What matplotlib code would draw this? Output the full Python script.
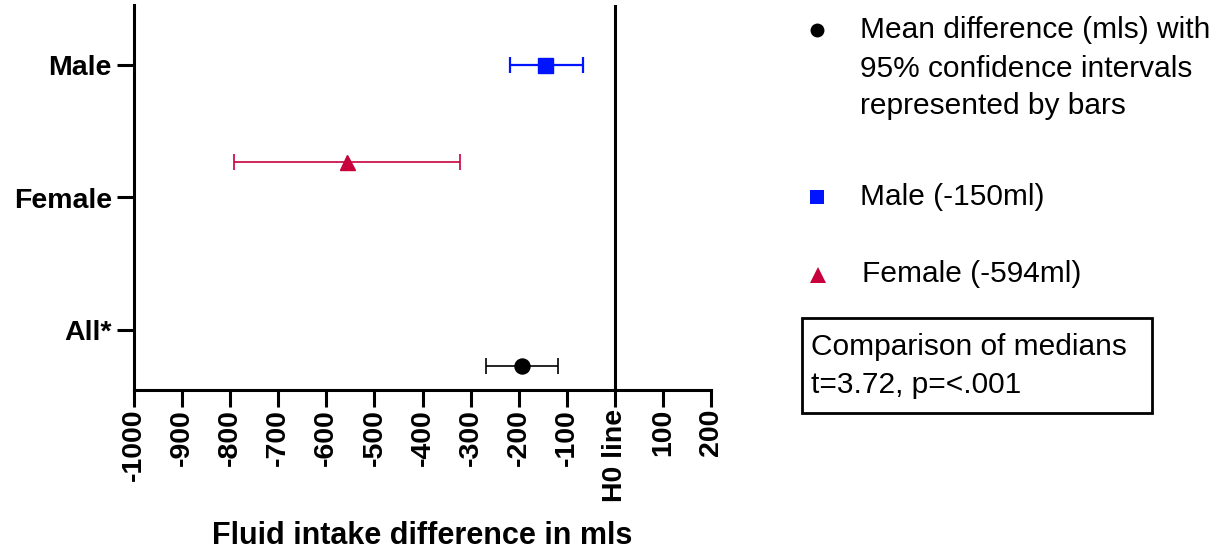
import numpy as np
import matplotlib
matplotlib.use("Agg")
import matplotlib.pyplot as plt
from matplotlib.lines import Line2D
from matplotlib.patches import Rectangle

plt.rcParams['font.family'] = ['Liberation Sans', 'DejaVu Sans']

# data
groups = ['Male', 'Female', 'All*']
group_y = [3, 2, 1]
point_y = [3.0, 2.265, 0.727]
means = [-145, -557, -193]
ci_low = [-217, -792, -267]
ci_high = [-67, -321, -119]

xticks = [-1000, -900, -800, -700, -600, -500, -400, -300, -200, -100, 0, 100, 200]
xticklabels = ['-1000', '-900', '-800', '-700', '-600', '-500', '-400', '-300',
               '-200', '-100', 'H0 line', '100', '200']

legend_labels = ['Mean difference (mls) with', '95% confidence intervals',
                 'represented by bars']
male_label = 'Male (-150ml)'
female_label = 'Female (-594ml)'
stats_lines = ['Comparison of medians', 't=3.72, p=<.001']

colors = ['#0014ff', '#c8003c', 'black']
markers = ['s', '^', 'o']
elw = [1.6, 1.2, 1.2]

W, H = 1229, 556
fig = plt.figure(figsize=(W / 100, H / 100), dpi=100)


def fx(px):
    return px / W


def fy(py):
    return 1 - py / H


ax = fig.add_axes([fx(134), fy(390), (711 - 134) / W, (390 - 5) / H])

for i in range(len(groups)):
    ax.errorbar([means[i]], [point_y[i]],
                xerr=[[means[i] - ci_low[i]], [ci_high[i] - means[i]]],
                fmt=markers[i], color=colors[i], ms=10.8,
                elinewidth=elw[i], capsize=5.8, capthick=elw[i], zorder=3)

ax.axvline(0, color='black', lw=2.2, zorder=2)

ax.set_xlim(-1000, 200)
ax.set_ylim(0.545, 3.455)
ax.set_xticks(xticks)
ax.set_xticklabels(xticklabels, rotation=90, fontsize=20.5, fontweight='bold')
ax.set_yticks(group_y)
ax.set_yticklabels(groups, fontsize=20.5, fontweight='bold')
ax.tick_params(axis='both', width=2.2, length=12)
ax.tick_params(axis='x', pad=1.5)
ax.tick_params(axis='y', pad=4)
ax.spines['top'].set_visible(False)
ax.spines['right'].set_visible(False)
ax.spines['left'].set_linewidth(2.2)
ax.spines['bottom'].set_linewidth(2.2)
ax.set_xlabel('Fluid intake difference in mls', fontsize=22, fontweight='bold',
              labelpad=14)

# legend drawn by hand on the right
fig.add_artist(Line2D([fx(817)], [fy(30)], marker='o', color='black', ms=10,
                      mew=0, transform=fig.transFigure))
fig.add_artist(Line2D([fx(817)], [fy(197)], marker='s', color=colors[0], ms=10.5,
                      mew=0, transform=fig.transFigure))
fig.add_artist(Line2D([fx(818)], [fy(275)], marker='^', color=colors[1], ms=11,
                      mew=0, transform=fig.transFigure))

fs = 21.5
for line, base in zip(legend_labels, [38, 77, 114]):
    fig.text(fx(860), fy(base), line, fontsize=fs, va='baseline', ha='left')
fig.text(fx(860), fy(205), male_label, fontsize=fs, va='baseline', ha='left')
fig.text(fx(862), fy(282), female_label, fontsize=fs, va='baseline', ha='left')

fig.add_artist(Rectangle((fx(802), fy(413)), (1152 - 802) / W, (413 - 318) / H,
                         fill=False, lw=2, edgecolor='black',
                         transform=fig.transFigure))
for line, base in zip(stats_lines, [355, 393]):
    fig.text(fx(811), fy(base), line, fontsize=fs, va='baseline', ha='left')

fig.savefig('out.png', dpi=100)
